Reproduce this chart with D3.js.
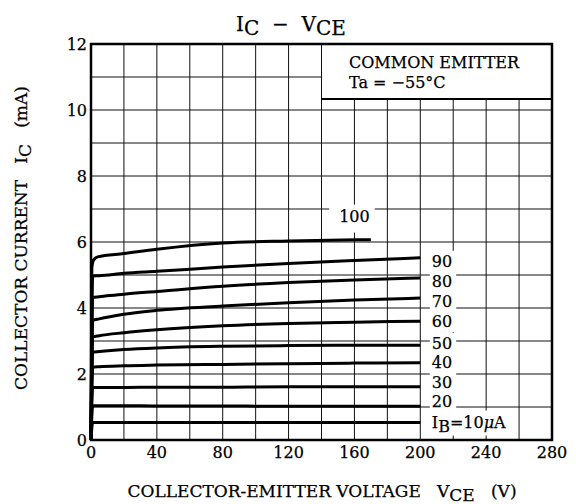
<!DOCTYPE html>
<html>
<head>
<meta charset="utf-8">
<style>
  body { margin: 0; background: #ffffff; }
  svg text { font-family: 'DejaVu Serif', serif; fill: #000; stroke: #000; stroke-width: 0.25px; }
</style>
</head>
<body>
<svg width="576" height="504"></svg>
<script src="https://cdn.jsdelivr.net/npm/d3@7"></script>
<script>
// values
let vce = [0, 1, 5, 20, 40, 80, 120, 160, 200];
let ic10 = [0, 0.53, 0.53, 0.53, 0.53, 0.53, 0.53, 0.53, 0.53];
let ic20 = [0, 1.04, 1.04, 1.04, 1.03, 1.03, 1.02, 1.02, 1.02];
let ic30 = [0, 1.59, 1.59, 1.59, 1.60, 1.60, 1.61, 1.61, 1.61];
let ic40 = [0, 2.20, 2.22, 2.25, 2.27, 2.29, 2.31, 2.33, 2.34];
let ic50 = [0, 2.66, 2.68, 2.74, 2.79, 2.84, 2.86, 2.87, 2.87];
let ic60 = [0, 3.12, 3.16, 3.25, 3.34, 3.46, 3.53, 3.57, 3.60];
let ic70 = [0, 3.62, 3.67, 3.81, 3.93, 4.06, 4.16, 4.24, 4.30];
let ic80 = [0, 4.32, 4.34, 4.42, 4.50, 4.66, 4.77, 4.85, 4.91];
let ic90 = [0, 4.97, 4.98, 5.05, 5.11, 5.24, 5.35, 5.44, 5.52];
let vce100 = [0, 0.5, 1.5, 4, 20, 40, 80, 120, 170];
let ic100 = [0, 5.2, 5.45, 5.55, 5.65, 5.78, 5.97, 6.03, 6.07];

let curveLabels = ["90", "80", "70", "60", "50", "40", "30", "20"];
let curveLabelIc = [5.43, 4.82, 4.21, 3.60, 2.94, 2.35, 1.77, 1.19];

let xTicks = [0, 40, 80, 120, 160, 200, 240, 280];
let yTicks = [0, 2, 4, 6, 8, 10, 12];

let svg = d3.select("svg");
let x = d3.scaleLinear().domain([0, 280]).range([91, 552]);
let y = d3.scaleLinear().domain([0, 12]).range([440, 44]);

// grid
let grid = svg.append("g").attr("stroke", "#111").attr("stroke-width", 1);
grid.selectAll(".v").data(d3.range(20, 280, 20)).enter().append("line")
  .attr("x1", d => x(d)).attr("x2", d => x(d)).attr("y1", y(0)).attr("y2", y(12));
grid.selectAll(".h").data(d3.range(1, 12, 1)).enter().append("line")
  .attr("x1", x(0)).attr("x2", x(280)).attr("y1", d => y(d)).attr("y2", d => y(d));

// legend box top right
svg.append("rect").attr("x", x(140) + 0.6).attr("y", y(12))
  .attr("width", x(280) - x(140) - 0.6).attr("height", 55).attr("fill", "#fff");
svg.append("line").attr("x1", x(140)).attr("x2", x(280))
  .attr("y1", y(12) + 55).attr("y2", y(12) + 55)
  .attr("stroke", "#000").attr("stroke-width", 2);
svg.append("text").attr("x", 349).attr("y", 68).attr("font-size", 16)
  .text("COMMON EMITTER");
svg.append("text").attr("x", 349).attr("y", 88).attr("font-size", 16)
  .text("Ta = \u221255\u00B0C");

// curves
let line = d3.line().x(d => x(d[0])).y(d => y(d[1])).curve(d3.curveMonotoneX);
let series = [ic10, ic20, ic30, ic40, ic50, ic60, ic70, ic80, ic90].map(s => vce.map((v, i) => [v, s[i]]));
series.push(vce100.map((v, i) => [v, ic100[i]]));
svg.append("g").selectAll("path").data(series).enter().append("path")
  .attr("d", line).attr("fill", "none").attr("stroke", "#000")
  .attr("stroke-width", 3).attr("stroke-linejoin", "round");

// curve labels with white backing
function backed(txt, padL, padR, padT, padB) {
  let b = txt.node().getBBox();
  svg.insert("rect", () => txt.node())
    .attr("x", b.x - padL).attr("y", b.y - padT)
    .attr("width", b.width + padL + padR).attr("height", b.height + padT + padB)
    .attr("fill", "#fff").attr("stroke", "none");
}
curveLabels.forEach((t, i) => {
  let txt = svg.append("text").attr("x", x(207)).attr("y", y(curveLabelIc[i]) + 6)
    .attr("font-size", 16).text(t);
  backed(txt, 2, 4, 1, 1);
});
let t100 = svg.append("text").attr("x", x(160)).attr("y", y(6.8) + 6)
  .attr("text-anchor", "middle").attr("font-size", 16).text("100");
backed(t100, 10, 5, 2, 7);

let ib = svg.append("text").attr("x", x(207)).attr("y", y(0.53) + 5).attr("font-size", 16);
ib.append("tspan").text("I");
ib.append("tspan").attr("dy", 4).text("B");
ib.append("tspan").attr("dy", -4).text("=10");
ib.append("tspan").attr("font-style", "italic").text("\u03BC");
ib.append("tspan").text("A");
backed(ib, 2, 5, 2, 0);

// frame
svg.append("rect").attr("x", x(0)).attr("y", y(12))
  .attr("width", x(280) - x(0)).attr("height", y(0) - y(12))
  .attr("fill", "none").attr("stroke", "#000").attr("stroke-width", 2.5);

// tick labels
svg.selectAll(".xt").data(xTicks).enter().append("text")
  .attr("x", d => x(d)).attr("y", 458).attr("text-anchor", "middle")
  .attr("font-size", 16).text(d => d);
svg.selectAll(".yt").data(yTicks).enter().append("text")
  .attr("x", 87).attr("y", d => y(d) + 6).attr("text-anchor", "end")
  .attr("font-size", 16).text(d => d);

// title
let title = svg.append("text").attr("x", 291).attr("y", 31)
  .attr("text-anchor", "middle").attr("font-size", 20).attr("xml:space", "preserve");
title.append("tspan").text("I");
title.append("tspan").attr("dy", 4).text("C");
title.append("tspan").attr("dy", -4).text("  \u2212  V");
title.append("tspan").attr("dy", 4).text("CE");

// axis titles
let xl = svg.append("text").attr("x", 322).attr("y", 497)
  .attr("text-anchor", "middle").attr("font-size", 17).attr("xml:space", "preserve");
xl.append("tspan").text("COLLECTOR-EMITTER VOLTAGE   V");
xl.append("tspan").attr("dy", 4).text("CE");
xl.append("tspan").attr("dy", -4).text("   (V)");

let yl = svg.append("text").attr("transform", "translate(27,238) rotate(-90)")
  .attr("text-anchor", "middle").attr("font-size", 17).attr("xml:space", "preserve");
yl.append("tspan").text("COLLECTOR CURRENT   I");
yl.append("tspan").attr("dy", 4).text("C");
yl.append("tspan").attr("dy", -4).text("   (mA)");
</script>
</body>
</html>
